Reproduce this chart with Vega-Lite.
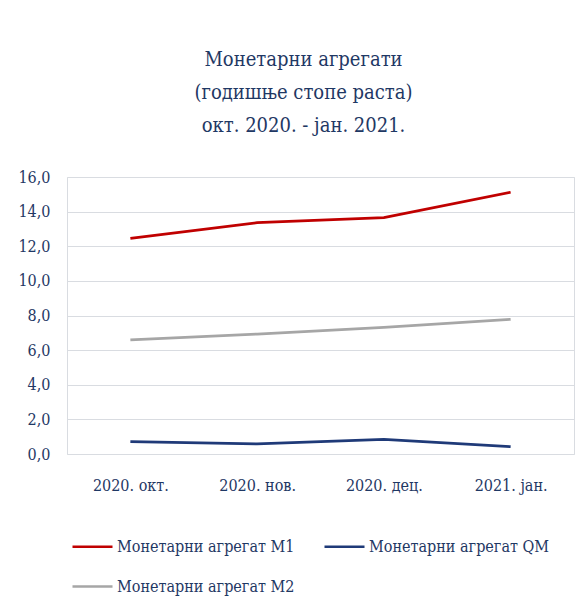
{
  "$schema": "https://vega.github.io/schema/vega-lite/v6.json",
  "width": 507,
  "height": 277,
  "autosize": {"type": "none"},
  "padding": {"left": 67, "top": 177, "right": 11, "bottom": 159},
  "background": "white",
  "config": {
    "font": "DejaVu Serif Condensed",
    "view": {"stroke": "#D9DCE1", "strokeWidth": 1}
  },
  "title": {
    "text": ["Монетарни агрегати", "(годишње стопе раста)", "окт. 2020. - јан. 2021."],
    "font": "DejaVu Serif Condensed",
    "fontSize": 20,
    "fontWeight": "normal",
    "color": "#1F3864",
    "lineHeight": 33,
    "anchor": "middle",
    "dx": -17,
    "offset": 33
  },
  "data": {
    "values": [
      {"month": "2020. окт.", "series": "Монетарни агрегат M1", "value": 12.46},
      {"month": "2020. нов.", "series": "Монетарни агрегат M1", "value": 13.36},
      {"month": "2020. дец.", "series": "Монетарни агрегат M1", "value": 13.65},
      {"month": "2021. јан.", "series": "Монетарни агрегат M1", "value": 15.12},
      {"month": "2020. окт.", "series": "Монетарни агрегат QM", "value": 0.71},
      {"month": "2020. нов.", "series": "Монетарни агрегат QM", "value": 0.58},
      {"month": "2020. дец.", "series": "Монетарни агрегат QM", "value": 0.85},
      {"month": "2021. јан.", "series": "Монетарни агрегат QM", "value": 0.42},
      {"month": "2020. окт.", "series": "Монетарни агрегат M2", "value": 6.59},
      {"month": "2020. нов.", "series": "Монетарни агрегат M2", "value": 6.93},
      {"month": "2020. дец.", "series": "Монетарни агрегат M2", "value": 7.32},
      {"month": "2021. јан.", "series": "Монетарни агрегат M2", "value": 7.78}
    ]
  },
  "mark": {"type": "line", "strokeWidth": 2.75, "interpolate": "linear"},
  "encoding": {
    "x": {
      "field": "month",
      "type": "ordinal",
      "sort": null,
      "scale": {"type": "point", "padding": 0.5},
      "axis": {
        "title": null,
        "labelAngle": 0,
        "labelFont": "DejaVu Serif Condensed",
        "labelFontSize": 16,
        "labelColor": "#1F3864",
        "labelPadding": 23,
        "ticks": false,
        "domain": false,
        "grid": false
      }
    },
    "y": {
      "field": "value",
      "type": "quantitative",
      "scale": {"domain": [0, 16], "nice": false},
      "axis": {
        "title": null,
        "values": [0, 2, 4, 6, 8, 10, 12, 14, 16],
        "labelExpr": "replace(format(datum.value, '.1f'), '.', ',')",
        "labelFont": "DejaVu Serif Condensed",
        "labelFontSize": 16,
        "labelColor": "#1F3864",
        "labelPadding": 17,
        "ticks": false,
        "domain": false,
        "grid": true,
        "gridColor": "#D9DCE1",
        "gridWidth": 1
      }
    },
    "color": {
      "field": "series",
      "type": "nominal",
      "scale": {
        "domain": ["Монетарни агрегат M1", "Монетарни агрегат M2", "Монетарни агрегат QM"],
        "range": ["#C00000", "#A6A6A6", "#1F3A78"]
      },
      "legend": {
        "title": null,
        "orient": "none",
        "legendX": 4,
        "legendY": 348,
        "columns": 2,
        "columnPadding": 24,
        "rowPadding": 10,
        "padding": 0,
        "values": ["Монетарни агрегат M1", "Монетарни агрегат M2", "Монетарни агрегат QM"],
        "symbolType": "stroke",
        "symbolSize": 1600,
        "symbolStrokeWidth": 2.5,
        "labelFont": "DejaVu Serif Condensed",
        "labelFontSize": 16,
        "labelColor": "#1F3864",
        "labelOffset": 3,
        "labelLimit": 300
      }
    }
  }
}
